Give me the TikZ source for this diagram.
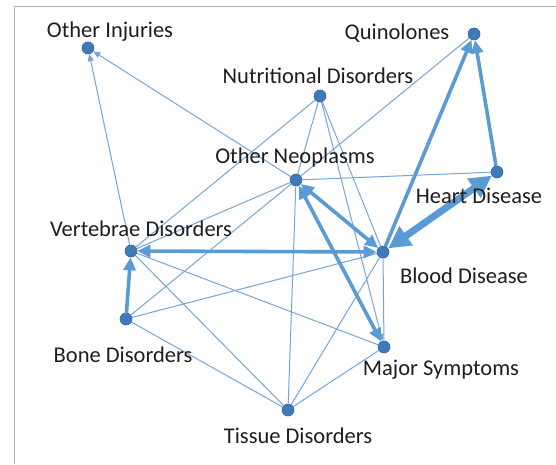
\documentclass[tikz,border=0pt]{standalone}
\usepackage{fontspec}
\setmainfont{Carlito}
\usetikzlibrary{arrows.meta}
\definecolor{edgeblue}{HTML}{5B9BD5}
\definecolor{thinblue}{HTML}{74A6DA}
\definecolor{nodeblue}{HTML}{4079B8}
\definecolor{nodeedge}{HTML}{33679E}
\definecolor{framegray}{HTML}{A9B8C8}
\definecolor{txt}{HTML}{1E1E1E}
\tikzset{
  vtx/.style={circle,fill=nodeblue,draw=nodeedge,line width=0.6pt,inner sep=0pt,minimum size=12pt},
  lbl/.style={text=txt,font=\fontsize{22.5}{26}\selectfont,inner sep=0pt},
  thin/.style={draw=thinblue,line width=1pt},
  mid/.style={draw=edgeblue,line width=3.6pt},
  fat/.style={draw=edgeblue,line width=7pt},
  sa/.style={-{Triangle[length=7pt,width=6pt]}},
  ma/.style={-{Triangle[length=13pt,width=12pt]}},
  mab/.style={{Triangle[length=13pt,width=12pt]}-{Triangle[length=13pt,width=12pt]}},
  fab/.style={{Triangle[length=22pt,width=22pt]}-{Triangle[length=22pt,width=22pt]}}
}
\begin{document}
\begin{tikzpicture}[x=1pt,y=-1pt]
\useasboundingbox (0,0) rectangle (556,464);
\fill[white] (0,0) rectangle (556,464);
\draw[framegray,line width=1pt] (14,464) -- (14,6) -- (556,6);
% vertices
\node[vtx] (OI) at (88,48) {};
\node[vtx] (Q) at (474,34) {};
\node[vtx] (ND) at (320,96) {};
\node[vtx] (ON) at (296,180) {};
\node[vtx] (HD) at (497,172) {};
\node[vtx] (VD) at (131,251) {};
\node[vtx] (BD) at (383,252) {};
\node[vtx] (BoD) at (126,319) {};
\node[vtx] (MS) at (384,347) {};
\node[vtx] (TD) at (288,410) {};
% thin edges
\draw[thin,sa] (VD) -- (OI);
\draw[thin,sa] (ON) -- (OI);
\draw[thin] (ON) -- (Q);
\draw[thin] (ON) -- (HD);
\draw[thin] (ND) -- (VD);
\draw[thin] (ND) -- (ON);
\draw[thin] (ND) -- (BD);
\draw[thin,sa] (ND) -- (MS);
\draw[thin] (ON) -- (VD);
\draw[thin] (ON) -- (BoD);
\draw[thin] (ON) -- (TD);
\draw[thin] (BoD) -- (BD);
\draw[thin] (BoD) -- (TD);
\draw[thin] (VD) -- (MS);
\draw[thin] (VD) -- (TD);
\draw[thin] (BD) -- (TD);
\draw[thin] (BD) -- (MS);
\draw[thin] (TD) -- (MS);
% thick edges
\draw[mid,mab] (VD) -- (BD);
\draw[mid,ma] (BoD) -- (VD);
\draw[mid,mab] (ON) -- (BD);
\draw[mid,mab] (ON) -- (MS);
\draw[mid,ma] (BD) -- (Q);
\draw[mid,ma] (HD) -- (Q);
\draw[fat,fab] (HD) -- (BD);
% redraw vertices on top
\foreach \n in {OI,Q,ND,ON,HD,VD,BD,BoD,MS,TD}{\fill[nodeblue] (\n) circle (5.5pt);}
% labels
\node[lbl] (tOI) at (110,32) {Other Injuries};
\node[lbl] (tQ) at (397,33) {Quinolones};
\node[lbl] (tND) at (318,76) {Nutritional Disorders};
\node[lbl] (tON) at (295,157) {Other Neoplasms};
\node[lbl] (tHD) at (479,196) {Heart Disease};
\node[lbl] (tVD) at (141,229) {Vertebrae Disorders};
\node[lbl] (tBD) at (464,276) {Blood Disease};
\node[lbl] (tBoD) at (123,355) {Bone Disorders};
\node[lbl] (tMS) at (441,370) {Major Symptoms};
\node[lbl] (tTD) at (298,436) {Tissue Disorders};
\end{tikzpicture}
\end{document}
